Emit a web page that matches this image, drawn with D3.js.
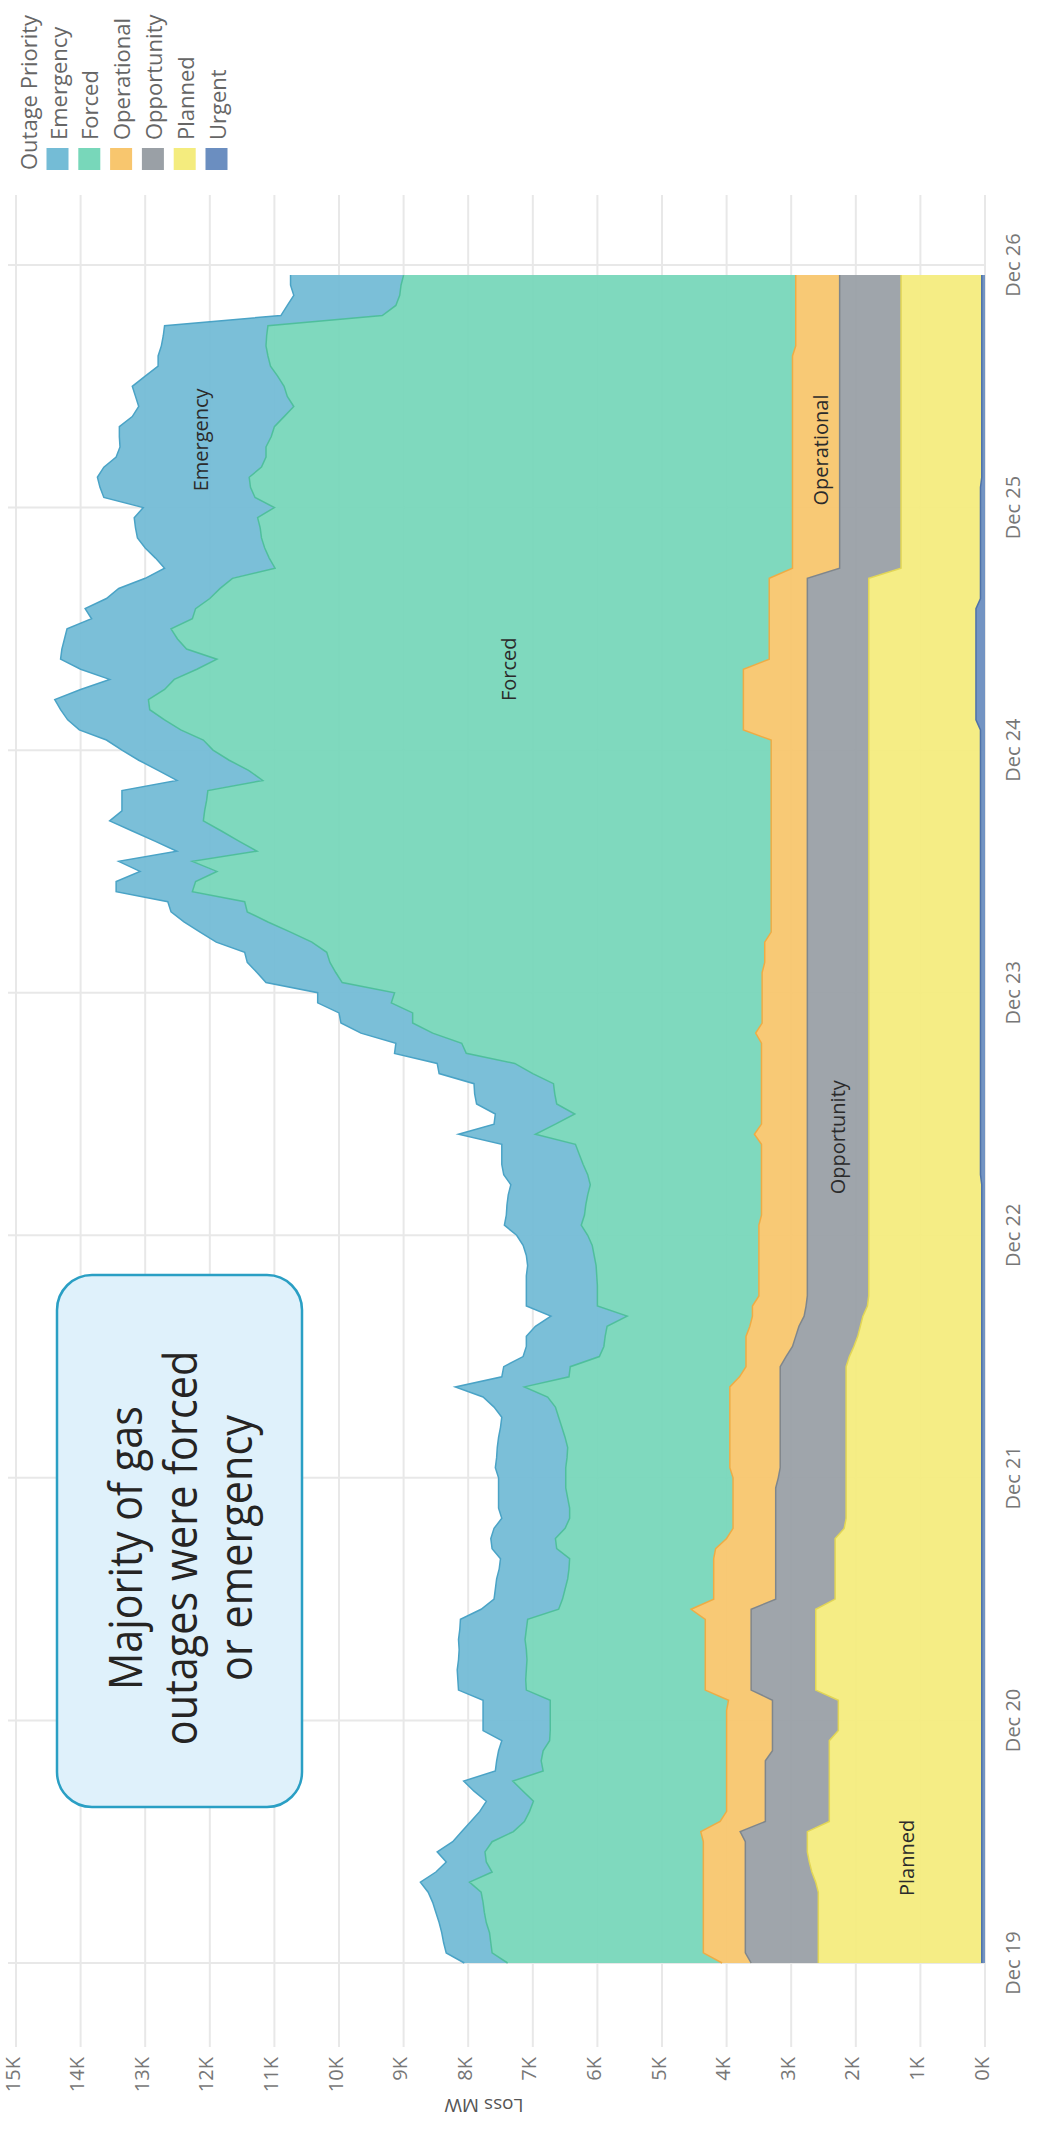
<!DOCTYPE html>
<html>
<head>
<meta charset="utf-8">
<script src="https://cdn.jsdelivr.net/npm/d3@7"></script>
<style>
  html, body { margin: 0; padding: 0; background: #ffffff; }
  svg { display: block; font-family: 'Segoe UI', 'Open Sans', 'Noto Sans', sans-serif; }
</style>
</head>
<body>
<svg id="chart" width="1038" height="2138"></svg>
<script>
// ---- Outage categories (legend order) and their colours ----
const legendOrder = ["Emergency", "Forced", "Operational", "Opportunity", "Planned", "Urgent"];
const stackOrder  = ["Urgent", "Planned", "Opportunity", "Operational", "Forced", "Emergency"];
const fillColors  = ["#74bcd6", "#78d7ba", "#f8c66e", "#9aa0a6", "#f4ec7e", "#6b8ec0"];
const lineColors  = ["#4aa3c6", "#4fbf9c", "#eeac45", "#7f868c", "#e2d655", "#4f72a8"];

// ---- Axis ticks ----
const dayTickLabels   = ["Dec 19", "Dec 20", "Dec 21", "Dec 22", "Dec 23", "Dec 24", "Dec 25", "Dec 26"];
const valueTicks      = [0, 1000, 2000, 3000, 4000, 5000, 6000, 7000, 8000, 9000, 10000, 11000, 12000, 13000, 14000, 15000];
const valueTickLabels = ["0K", "1K", "2K", "3K", "4K", "5K", "6K", "7K", "8K", "9K", "10K", "11K", "12K", "13K", "14K", "15K"];

// ---- Hourly loss (MW) by outage priority, Dec 19 00:00 through Dec 25 23:00 ----
const urgent = [
  50,50,50,50,50,50,50,50,50,50,50,50,
  50,50,50,50,50,50,50,50,50,50,50,50,
  50,50,50,50,50,50,50,50,50,50,50,50,
  50,50,50,50,50,50,50,50,50,50,50,50,
  50,50,50,50,50,50,50,50,50,50,50,50,
  50,50,50,50,50,50,50,50,50,50,50,50,
  50,50,50,50,50,50,70,70,70,70,70,70,
  70,70,70,70,70,70,70,70,70,70,70,70,
  70,70,70,70,70,70,70,70,70,70,70,70,
  70,70,70,70,70,70,70,70,70,70,70,70,
  70,70,70,140,140,140,140,140,140,140,140,140,
  140,140,140,70,70,70,70,70,70,70,70,70,
  70,70,70,50,50,50,50,50,50,50,50,50,
  50,50,50,50,50,50,50,50,50,50,50,50
];
const planned = [
  2530,2530,2530,2530,2530,2530,2530,2530,2570,2630,2670,2700,
  2700,2700,2360,2360,2360,2360,2360,2360,2360,2360,2360,2220,
  2220,2220,2220,2570,2570,2570,2570,2570,2570,2570,2570,2570,
  2270,2270,2270,2270,2270,2270,2270,2130,2100,2100,2100,2100,
  2100,2100,2100,2100,2100,2100,2100,2100,2100,2100,2100,2100,
  2050,1980,1920,1880,1840,1770,1750,1750,1750,1750,1750,1750,
  1750,1750,1750,1750,1750,1750,1730,1730,1730,1730,1730,1730,
  1730,1730,1730,1730,1730,1730,1730,1730,1730,1730,1730,1730,
  1730,1730,1730,1730,1730,1730,1730,1730,1730,1730,1730,1730,
  1730,1730,1730,1730,1730,1730,1730,1730,1730,1730,1730,1730,
  1730,1730,1730,1660,1660,1660,1660,1660,1660,1660,1660,1660,
  1660,1660,1660,1730,1730,1730,1230,1230,1230,1230,1230,1230,
  1230,1230,1230,1250,1250,1250,1250,1250,1250,1250,1250,1250,
  1250,1250,1250,1250,1250,1250,1250,1250,1250,1250,1250,1250
];
const opportunity = [
  1040,1130,1130,1130,1130,1130,1130,1130,1090,1030,990,960,
  960,1040,990,990,990,990,990,990,990,880,880,1020,
  1020,1020,1020,1000,1000,1000,1000,1000,1000,1000,1000,1000,
  920,920,920,920,920,920,920,1060,1090,1090,1090,1090,
  1050,1020,1020,1020,1020,1020,1020,1020,1020,1020,1020,1020,
  980,950,960,950,910,950,950,950,950,950,950,950,
  950,950,950,950,950,950,950,950,950,950,950,950,
  950,950,950,950,950,950,950,950,950,950,950,950,
  950,950,950,950,950,950,950,950,950,950,950,950,
  950,950,950,950,950,950,950,950,950,950,950,950,
  950,950,950,950,950,950,950,950,950,950,950,950,
  950,950,950,950,950,950,950,950,950,950,950,950,
  950,950,950,950,950,950,950,950,950,950,950,950,
  950,950,950,950,950,950,950,950,950,950,950,950
];
const operational = [
  450,650,650,650,650,650,650,650,650,650,650,650,
  650,610,700,600,600,600,600,600,600,710,710,710,
  710,710,680,710,710,710,710,710,710,710,710,930,
  960,960,960,960,960,930,760,660,660,660,660,660,
  700,780,780,780,780,780,780,780,780,780,630,530,
  620,720,770,760,800,830,750,750,750,750,750,750,
  750,750,710,710,710,710,710,710,710,710,820,710,
  710,710,710,710,710,710,710,710,800,700,700,700,
  700,700,700,660,660,660,560,560,560,560,560,560,
  560,560,560,560,560,560,560,560,560,560,560,560,
  560,560,990,990,990,990,990,990,990,590,590,590,
  590,590,590,590,590,590,730,730,730,730,730,730,
  730,730,730,730,730,730,730,730,730,730,730,730,
  730,730,730,730,680,680,680,680,680,680,680,680
];
const forced = [
  3320,3270,3290,3310,3360,3390,3410,3440,3620,3270,3360,3380,
  3270,2900,3030,3050,2990,3150,3310,2840,2870,2840,2740,2730,
  2730,2730,2760,2770,2780,2770,2760,2770,2790,2770,2750,2050,
  2340,2300,2260,2240,2230,2460,2650,2600,2530,2530,2560,2590,
  2590,2540,2520,2510,2550,2600,2650,2700,2820,3180,2640,2720,
  2270,2200,2180,2210,1940,2400,2500,2500,2510,2520,2550,2580,
  2650,2750,2740,2720,2690,2650,2690,2760,2820,2880,3390,3190,
  2890,3170,3200,3220,3540,3820,4570,4640,5000,5410,5410,5740,
  5690,6500,6600,6730,6780,7010,7440,7790,8110,8150,8960,8910,
  8580,8960,7960,8240,8510,8790,8770,8740,8720,7870,8090,8390,
  8640,8790,8710,8960,9190,9210,8960,8810,8460,8550,9020,9160,
  9260,8930,8880,8660,8500,8310,8010,8100,8170,8220,8240,8280,
  8020,8320,8390,8410,8220,8150,8150,8070,8020,7870,7720,7820,
  7870,7970,8080,8120,8200,8190,8170,6400,6190,6130,6110,6070
];
const emergency = [
  670,710,730,740,730,750,780,820,760,870,620,740,
  610,800,830,770,730,760,760,740,690,690,740,1040,
  1040,1040,1040,1050,1050,1070,1060,1040,1030,1030,1040,1200,
  1060,1080,1100,1080,1070,1000,1000,1100,1050,1100,1070,1040,
  1040,1090,1090,1090,1030,950,880,950,1000,1070,1040,1030,
  1180,1200,1220,1110,1180,1100,1100,1100,1090,1060,1050,1070,
  1100,1190,1210,1220,1230,1230,1300,1260,1200,1140,1190,950,
  1230,1240,1240,1230,1450,1200,1110,1020,1110,1110,1140,1140,
  1190,1180,1220,1280,1270,1480,1400,1300,1180,1190,1180,1230,
  1190,1140,1240,1300,1380,1450,1280,1310,1330,1330,1400,1400,
  1410,1500,1570,1500,1380,1450,1300,1000,1800,2420,1930,1750,
  1610,1560,1710,1600,1570,1350,1710,1760,1850,1920,1930,1910,
  2030,2340,2330,2350,2440,2320,2260,2350,2400,2350,2400,2350,
  2350,2050,1740,1700,1620,1600,1600,1570,1680,1640,1710,1750
];

// Series label anchors: [series, hours since Dec 19 00:00, MW]
const seriesLabelAnchors = [
  ["Emergency", 150.7, 12150],
  ["Forced", 128, 7380],
  ["Operational", 149.7, 2550],
  ["Opportunity", 81.7, 2280],
  ["Planned", 10.4, 1220]
];

// ---- Build the table ----
const start = new Date(2022, 11, 19, 0, 0);
const bySeries = { Urgent: urgent, Planned: planned, Opportunity: opportunity,
                   Operational: operational, Forced: forced, Emergency: emergency };
const rows = urgent.map((_, i) => {
  const r = { time: d3.timeHour.offset(start, i) };
  stackOrder.forEach(k => { r[k] = bySeries[k][i]; });
  return r;
});
const colorOf = k => fillColors[legendOrder.indexOf(k)];
const lineOf  = k => lineColors[legendOrder.indexOf(k)];

// ---- Chart drawn in a landscape frame, then turned a quarter-turn counter-clockwise ----
const W = 2138, H = 1038;
const svg = d3.select("#chart");
const g = svg.append("g").attr("transform", `translate(0,${W}) rotate(-90)`);

const plotLeft = 91, plotRight = 1943, plotTop = 16, plotBottom = 985;
const x = d3.scaleTime()
  .domain([start, d3.timeDay.offset(start, 7)])
  .range([175, 1873]);
const y = d3.scaleLinear().domain([0, 15000]).range([plotBottom, plotTop]);

// Grid
const dayTicks = d3.timeDay.range(start, d3.timeDay.offset(start, 8));
g.append("g").selectAll("line").data(valueTicks).join("line")
  .attr("x1", plotLeft).attr("x2", plotRight)
  .attr("y1", d => y(d)).attr("y2", d => y(d))
  .attr("stroke", "#e8e8e8").attr("stroke-width", 2);
g.append("g").selectAll("line").data(dayTicks).join("line")
  .attr("x1", d => x(d)).attr("x2", d => x(d))
  .attr("y1", 8).attr("y2", plotBottom)
  .attr("stroke", "#e8e8e8").attr("stroke-width", 2);

// Stacked areas
const stacked = d3.stack().keys(stackOrder)(rows);
const area = d3.area()
  .x(d => x(d.data.time)).y0(d => y(d[0])).y1(d => y(d[1]));
const topLine = d3.line()
  .x(d => x(d.data.time)).y(d => y(d[1]));
const layers = g.append("g");
layers.selectAll("path.area").data(stacked).join("path")
  .attr("class", "area")
  .attr("d", area)
  .attr("fill", s => colorOf(s.key))
  .attr("fill-opacity", 0.95);
layers.selectAll("path.top").data(stacked).join("path")
  .attr("class", "top")
  .attr("d", topLine)
  .attr("fill", "none")
  .attr("stroke", s => lineOf(s.key))
  .attr("stroke-width", 1.5);

// Axes labels
g.append("g").selectAll("text").data(dayTicks).join("text")
  .attr("x", d => x(d)).attr("y", 1012)
  .attr("text-anchor", "middle").attr("dominant-baseline", "central")
  .attr("font-size", 20).attr("fill", "#777")
  .text((d, i) => dayTickLabels[i]);
g.append("g").selectAll("text").data(valueTicks).join("text")
  .attr("x", 81).attr("y", d => y(d) - 4)
  .attr("text-anchor", "end").attr("dominant-baseline", "central")
  .attr("font-size", 20).attr("fill", "#777")
  .text((d, i) => valueTickLabels[i]);
g.append("text")
  .attr("transform", `translate(32,484) rotate(-90)`)
  .attr("text-anchor", "middle").attr("dominant-baseline", "central")
  .attr("font-size", 19).attr("fill", "#555")
  .text("Loss MW");

// Series labels inside the areas
g.append("g").selectAll("text").data(seriesLabelAnchors).join("text")
  .attr("x", d => x(d3.timeMinute.offset(start, Math.round(d[1] * 60))))
  .attr("y", d => y(d[2]))
  .attr("text-anchor", "middle").attr("dominant-baseline", "central")
  .attr("font-size", 20).attr("fill", "#2b2b2b")
  .text(d => d[0]);

// Legend
const legend = g.append("g").attr("transform", "translate(1968,0)");
legend.append("text")
  .attr("x", 0).attr("y", 28).attr("dominant-baseline", "central")
  .attr("font-size", 22).attr("fill", "#666").text("Outage Priority");
const item = legend.selectAll("g.item").data(legendOrder).join("g")
  .attr("class", "item")
  .attr("transform", (d, i) => `translate(0,${57.5 + i * 31.8})`);
item.append("rect").attr("x", 0).attr("y", -11).attr("width", 22).attr("height", 22)
  .attr("fill", (d, i) => fillColors[i]);
item.append("text").attr("x", 30).attr("y", 0).attr("dominant-baseline", "central")
  .attr("font-size", 22).attr("fill", "#666").text(d => d);

// Callout
const callout = g.append("g");
callout.append("rect")
  .attr("x", 331).attr("y", 57).attr("width", 532).attr("height", 245).attr("rx", 35)
  .attr("fill", "#dff1fb").attr("stroke", "#2a9fc4").attr("stroke-width", 2.5);
const calloutLines = ["Majority of gas", "outages were forced", "or emergency"];
callout.selectAll("text").data(calloutLines).join("text")
  .attr("transform", (d, i) => `translate(590,${125 + i * 55}) scale(0.92,1)`)
  .attr("x", 0).attr("y", 0)
  .attr("text-anchor", "middle").attr("dominant-baseline", "central")
  .attr("font-size", 45).attr("fill", "#252423")
  .text(d => d);
</script>
</body>
</html>
